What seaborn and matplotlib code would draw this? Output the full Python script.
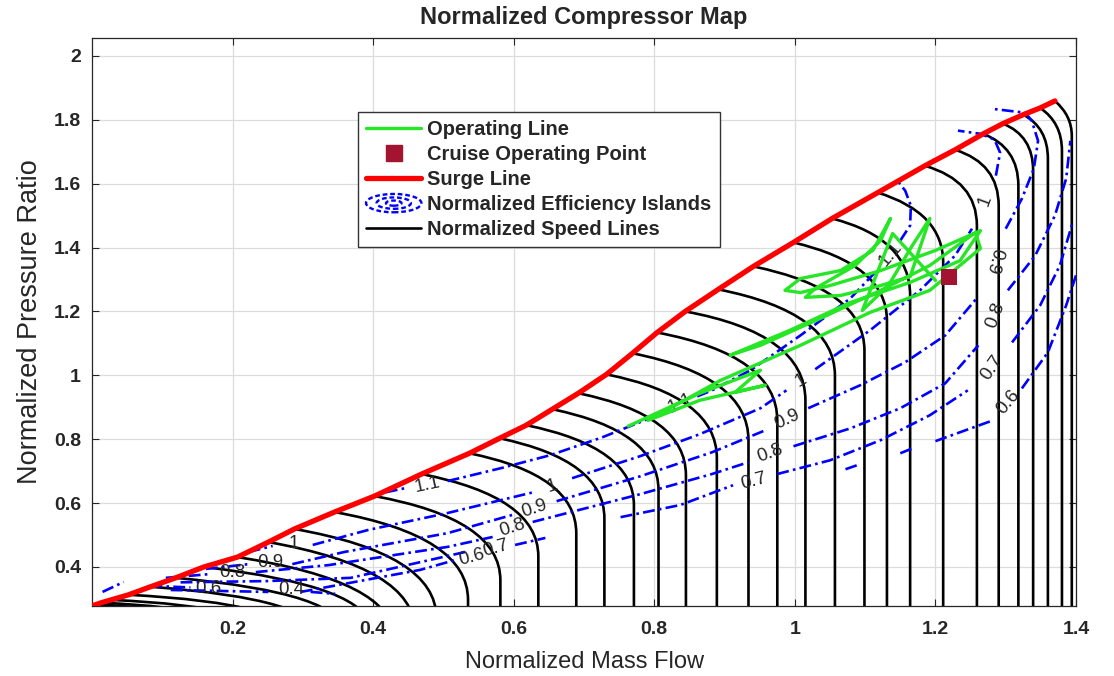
import os
os.environ.setdefault("MPLCONFIGDIR", "/tmp/matplotlib")

import numpy as np
import pandas as pd
import seaborn as sns
import matplotlib
matplotlib.use("Agg")
import matplotlib.pyplot as plt
from matplotlib.path import Path
from matplotlib.patches import PathPatch, Ellipse
from matplotlib.lines import Line2D
from matplotlib.legend_handler import HandlerBase

# ---- speed lines: surge point, choke (vertical) flow, knee height, end of bend
surge_x = [1.370, 1.349, 1.325, 1.296, 1.268, 1.228, 1.185, 1.118, 1.053, 0.998, 0.941,
           0.891, 0.844, 0.804, 0.769, 0.732, 0.692, 0.655, 0.618, 0.580, 0.537, 0.469,
           0.402, 0.345, 0.288, 0.251, 0.207, 0.159, 0.119, 0.083, 0.052, 0.027, 0.013,
           0.005]
surge_y = [1.859, 1.837, 1.816, 1.788, 1.756, 1.706, 1.656, 1.572, 1.491, 1.416, 1.341,
           1.269, 1.200, 1.134, 1.069, 1.003, 0.944, 0.894, 0.844, 0.803, 0.756, 0.691,
           0.622, 0.572, 0.519, 0.478, 0.431, 0.400, 0.366, 0.338, 0.313, 0.297, 0.288,
           0.282]
choke_x = [1.394, 1.380, 1.360, 1.339, 1.318, 1.290, 1.259, 1.211, 1.164, 1.131, 1.099,
           1.057, 1.015, 0.975, 0.934, 0.889, 0.845, 0.806, 0.771, 0.729, 0.689, 0.635,
           0.581, 0.535, 0.490, 0.459, 0.429, 0.397, 0.360, 0.323, 0.290, 0.254, 0.225,
           0.195]
knee_y = [1.813, 1.791, 1.775, 1.750, 1.713, 1.663, 1.609, 1.509, 1.428, 1.347, 1.269,
          1.197, 1.131, 1.063, 0.997, 0.934, 0.875, 0.825, 0.775, 0.734, 0.688, 0.619,
          0.550, 0.497, 0.441, 0.397, 0.355, 0.340, 0.318, 0.300, 0.286, 0.276, 0.270,
          0.268]
bend_y = [1.750, 1.703, 1.678, 1.641, 1.594, 1.531, 1.469, 1.353, 1.250, 1.172, 1.078,
          1.000, 0.922, 0.859, 0.797, 0.741, 0.688, 0.641, 0.594, 0.553, 0.506, 0.434,
          0.359, 0.297, 0.241, 0.203, 0.180, 0.200, 0.190, 0.180, 0.170, 0.160, 0.150,
          0.150]

# surge line (red)
surge_line_x = [0.0] + surge_x[::-1]
surge_line_y = [0.278] + surge_y[::-1]

# ---- efficiency islands (NaN = gap for inline label)
eff_110_x = [0.418, 0.446, np.nan, 0.506, 0.581, 0.652, 0.726, 0.794, 0.811, np.nan,
             0.861, 0.882, 0.937, 1.008, 1.079, 1.114, np.nan, 1.150, 1.164, 1.165, 1.157, 1.147]
eff_110_y = [0.634, 0.647, np.nan, 0.669, 0.709, 0.750, 0.806, 0.866, 0.881, np.nan,
             0.934, 0.953, 1.016, 1.125, 1.241, 1.322, np.nan, 1.422, 1.469, 1.531, 1.578, 1.606]

eff_100_x = [0.223, 0.257, np.nan, 0.314, 0.393, 0.506, 0.628, np.nan,
             0.683, 0.780, 0.865, 0.951, 0.988, np.nan,
             1.029, 1.107, 1.178, 1.228, 1.252, np.nan,
             1.286, 1.292, 1.284, 1.264, 1.232]
eff_100_y = [0.447, 0.466, np.nan, 0.469, 0.516, 0.569, 0.634, np.nan,
             0.678, 0.747, 0.816, 0.897, 0.953, np.nan,
             1.019, 1.141, 1.266, 1.375, 1.459, np.nan,
             1.625, 1.697, 1.738, 1.756, 1.766]

eff_090_x = [0.162, 0.223, np.nan, 0.285, 0.359, 0.506, 0.598, np.nan,
             0.661, 0.780, 0.882, 0.958, np.nan,
             1.019, 1.093, 1.157, 1.214, 1.261, np.nan,
             1.300, 1.323, 1.340, 1.346, 1.337, 1.328, 1.282]
eff_090_y = [0.394, 0.409, np.nan, 0.409, 0.447, 0.506, 0.563, np.nan,
             0.606, 0.684, 0.759, 0.828, np.nan,
             0.897, 0.969, 1.041, 1.125, 1.247, np.nan,
             1.459, 1.553, 1.647, 1.734, 1.797, 1.822, 1.834]

eff_080_x = [0.105, 0.169, np.nan, 0.233, 0.337, 0.506, 0.570, np.nan,
             0.627, 0.780, 0.882, 0.934, np.nan,
             0.998, 1.079, 1.150, 1.214, 1.261, np.nan,
             1.303, 1.342, 1.370, 1.386, 1.392]
eff_080_y = [0.366, 0.378, np.nan, 0.384, 0.406, 0.463, 0.494, np.nan,
             0.541, 0.628, 0.691, 0.728, np.nan,
             0.778, 0.834, 0.897, 0.975, 1.094, np.nan,
             1.266, 1.375, 1.500, 1.616, 1.734]

eff_070_x = [0.126, 0.250, 0.368, 0.531, np.nan, 0.602, 0.645, np.nan,
             0.752, 0.837, 0.912, np.nan,
             0.975, 1.050, 1.122, 1.192, 1.246, np.nan,
             1.309, 1.349, 1.377, 1.396]
eff_070_y = [0.352, 0.356, 0.366, 0.447, np.nan, 0.469, 0.491, np.nan,
             0.556, 0.594, 0.656, np.nan,
             0.691, 0.734, 0.797, 0.875, 0.953, np.nan,
             1.103, 1.219, 1.344, 1.484]

eff_060_x = [0.297, 0.467, 0.517, np.nan,
             1.072, 1.093, np.nan, 1.150, 1.168, np.nan,
             1.200, 1.278, np.nan, 1.323, 1.360, 1.386, 1.400,
             np.nan, 0.083, 0.140]
eff_060_y = [0.322, 0.391, 0.422, np.nan,
             0.706, 0.722, np.nan, 0.756, 0.772, np.nan,
             0.794, 0.856, np.nan, 0.959, 1.072, 1.219, 1.313,
             np.nan, 0.341, 0.336]

eff_040_x = [0.112, 0.251, np.nan, 0.311, 0.346, np.nan, 0.015, 0.045]
eff_040_y = [0.328, 0.322, np.nan, 0.322, 0.316, np.nan, 0.322, 0.353]

# inline contour labels
label_x = [0.477, 0.837, 1.136, 0.287, 0.655, 1.009, 1.271, 0.253, 0.629, 0.989, 1.284,
           0.200, 0.598, 0.965, 1.286, 0.574, 0.942, 1.281, 0.541, 1.303, 0.283, 0.165]
label_y = [0.656, 0.913, 1.378, 0.475, 0.653, 0.984, 1.547, 0.413, 0.584, 0.863, 1.359,
           0.384, 0.522, 0.756, 1.188, 0.459, 0.669, 1.025, 0.431, 0.916, 0.328, 0.334]
label_txt = ["1.1", "1.1", "1.1", "1", "1", "1", "1", "0.9", "0.9", "0.9", "0.9",
             "0.8", "0.8", "0.8", "0.8", "0.7", "0.7", "0.7", "0.6", "0.6", "0.4", "0.6"]
label_rot = [12, 25, 50, 0, 18, 30, 70, 0, 18, 25, -105,
             0, 18, 20, 70, 15, 15, 55, 15, 50, 0, 0]

# ---- operating line (measured trace)
op_x = [0.763, 0.865, 0.951, 0.915, 0.958, 0.865, 0.791, 0.894, 1.008, 1.107, 1.192,
        1.264, 1.257, 1.192, 1.122, 1.036, 0.951, 0.908, 0.993, 1.079, 1.164, 1.235,
        1.264, 1.200, 1.122, 1.050, 1.008, 0.986, 1.008, 1.065, 1.111, 1.136, 1.122,
        1.086, 1.029, 1.015, 1.065, 1.122, 1.164, 1.192, 1.167, 1.133, 1.096, 1.139, 1.200]
op_y = [0.841, 0.944, 1.016, 0.947, 0.969, 0.922, 0.859, 0.984, 1.094, 1.197, 1.266,
        1.397, 1.447, 1.344, 1.266, 1.178, 1.094, 1.063, 1.141, 1.228, 1.291, 1.359,
        1.453, 1.391, 1.328, 1.281, 1.259, 1.266, 1.303, 1.328, 1.391, 1.491, 1.422,
        1.344, 1.272, 1.244, 1.250, 1.281, 1.309, 1.491, 1.406, 1.281, 1.203, 1.444, 1.297]

cruise_x = [1.2195]
cruise_y = [1.309]

x_ticks = [0.2, 0.4, 0.6, 0.8, 1.0, 1.2, 1.4]
x_ticklabels = ["0.2", "0.4", "0.6", "0.8", "1", "1.2", "1.4"]
y_ticks = [0.4, 0.6, 0.8, 1.0, 1.2, 1.4, 1.6, 1.8, 2.0]
y_ticklabels = ["0.4", "0.6", "0.8", "1", "1.2", "1.4", "1.6", "1.8", "2"]


def to_segments(xs, ys):
    rows = []
    seg = 0
    for x, y in zip(xs, ys):
        if np.isnan(x):
            seg += 1
            continue
        rows.append((x, y, seg))
    return pd.DataFrame(rows, columns=["x", "y", "seg"])


class IslandHandler(HandlerBase):
    def create_artists(self, legend, orig_handle, xdescent, ydescent, width, height,
                       fontsize, trans):
        cx, cy = width / 2 - xdescent, height / 2 - ydescent
        arts = []
        for f in (1.0, 0.62, 0.28):
            arts.append(Ellipse((cx, cy), width * f, height * 1.3 * f, fill=False,
                                ec="blue", lw=1.7, ls=(0, (2, 1.2)), transform=trans))
        return arts


sns.set_style("ticks")
plt.rcParams["font.family"] = ["Liberation Sans", "DejaVu Sans"]

green = "#26e626"

fig = plt.figure(figsize=(11.14, 6.76), dpi=100)
ax = fig.add_axes([0.0826, 0.1036, 0.8833, 0.8402])

# speed lines
for sx, sy, cx, ky, by in zip(surge_x, surge_y, choke_x, knee_y, bend_y):
    p = Path([(sx, sy), (cx, ky), (cx, by), (cx, -0.2)],
             [Path.MOVETO, Path.CURVE3, Path.CURVE3, Path.LINETO])
    ax.add_patch(PathPatch(p, fill=False, ec="black", lw=1.9, zorder=2))

# efficiency islands
dash_dot = (0, (4.5, 1.6, 1.0, 1.6))
for xs, ys in [(eff_110_x, eff_110_y), (eff_100_x, eff_100_y), (eff_090_x, eff_090_y),
               (eff_080_x, eff_080_y), (eff_070_x, eff_070_y), (eff_060_x, eff_060_y),
               (eff_040_x, eff_040_y)]:
    d = to_segments(xs, ys)
    sns.lineplot(data=d, x="x", y="y", units="seg", estimator=None, sort=False,
                 color="blue", lw=1.9, linestyle=dash_dot, ax=ax, zorder=3, legend=False)

for x, y, t, r in zip(label_x, label_y, label_txt, label_rot):
    ax.text(x, y, t, rotation=r, ha="center", va="center", fontsize=13.5,
            rotation_mode="anchor", zorder=4)

# surge line, operating line, cruise point
sns.lineplot(x=surge_line_x, y=surge_line_y, sort=False, estimator=None, color="red",
             lw=3.8, ax=ax, zorder=5)
sns.lineplot(x=op_x, y=op_y, sort=False, estimator=None, color=green, lw=2.4, ax=ax,
             zorder=6)
sns.scatterplot(x=cruise_x, y=cruise_y, marker="s", s=130, color="#A2142F",
                edgecolor="none", ax=ax, zorder=7)

ax.set_xlim(0.0, 1.4)
ax.set_ylim(0.278, 2.056)
ax.set_xticks(x_ticks)
ax.set_xticklabels(x_ticklabels, fontweight="bold", fontsize=14)
ax.set_yticks(y_ticks)
ax.set_yticklabels(y_ticklabels, fontweight="bold", fontsize=14)
ax.tick_params(direction="in", top=True, right=True, length=5, width=0.8,
               colors="#262626")
ax.tick_params(axis="x", pad=11)
ax.tick_params(axis="y", pad=8)
ax.grid(True, color="#dcdcdc", lw=0.9)
ax.set_axisbelow(True)
for s in ax.spines.values():
    s.set_color("#262626")
    s.set_linewidth(0.9)

ax.set_title("Normalized Compressor Map", fontweight="bold", fontsize=17, pad=10)
ax.set_xlabel("Normalized Mass Flow", fontsize=17, color="#262626", labelpad=9)
ax.set_ylabel("Normalized Pressure Ratio", fontsize=19.5, color="#262626", labelpad=8)

handles = [
    Line2D([], [], color=green, lw=2.4),
    Line2D([], [], color="#A2142F", marker="s", ls="none", markersize=11.5),
    Line2D([], [], color="red", lw=3.8),
    Ellipse((0, 0), 1, 1),
    Line2D([], [], color="black", lw=1.9),
]
labels = ["Operating Line", "Cruise Operating Point", "Surge Line",
          "Normalized Efficiency Islands", "Normalized Speed Lines"]
leg = ax.legend(handles, labels, loc="upper left", bbox_to_anchor=(0.2703, 0.8697),
                borderaxespad=0, prop={"weight": "bold", "size": 14.5}, frameon=True,
                fancybox=False, edgecolor="#333333", framealpha=1, handlelength=2.75,
                labelspacing=0.3, borderpad=0.4, handletextpad=0.3,
                handler_map={Ellipse: IslandHandler()})
leg.get_frame().set_linewidth(1.0)
leg.set_zorder(10)

fig.savefig("out.png", dpi=100)
